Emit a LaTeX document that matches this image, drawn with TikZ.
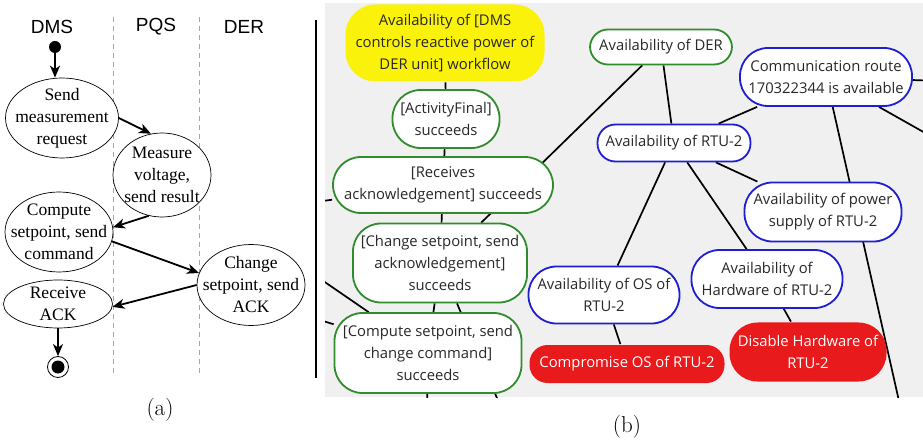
\documentclass[tikz,border=0pt]{standalone}
\usepackage{fontspec}
\newfontfamily\serfont{Liberation Serif}
\newfontfamily\lanefont{Liberation Sans}
\newfontfamily\uifont{Open Sans}
\usetikzlibrary{positioning,arrows.meta,shapes.geometric,backgrounds}
\definecolor{bggray}{RGB}{240,240,240}
\definecolor{okgreen}{RGB}{48,140,44}
\definecolor{okblue}{RGB}{30,30,210}
\definecolor{badred}{RGB}{232,26,28}
\definecolor{goalyellow}{RGB}{250,242,10}
\definecolor{txtgray}{RGB}{40,40,40}

\begin{document}
\begin{tikzpicture}[x=1pt, y=-1pt,
        >={Stealth[length=12pt,width=10pt,inset=3.5pt]},
        lane/.style = {font=\lanefont\fontsize{19}{22}\selectfont},
        act/.style = {ellipse, draw, line width=0.7pt, fill=white, inner sep=0pt,
                label={[align=center, font=\serfont\fontsize{17.5}{22}\selectfont]center:{#1}}},
        flow/.style = {->, line width=1.8pt},
        swim/.style = {dashed, gray!70, line width=0.8pt, dash pattern=on 5pt off 4pt},
        caption/.style = {font=\fontsize{23}{27}\selectfont},
        box/.style = {rectangle, line width=1.8pt, fill=white, align=center, inner sep=2pt,
                text=txtgray, font=\uifont\fontsize{14.8}{22}\selectfont},
        gbox/.style = {box, draw=okgreen},
        bbox/.style = {box, draw=okblue},
        rbox/.style = {box, fill=badred, text=white, draw=none},
        one/.style = {minimum height=36pt, rounded corners=18pt},
        two/.style = {minimum height=58pt, rounded corners=28pt},
        three/.style = {minimum height=79pt, rounded corners=28pt},
        edge/.style = {line width=1.7pt},
    ]
    \useasboundingbox (0,0) rectangle (923,443);

    % (a) activity diagram
    \node[lane] (dms) at (52,27) {DMS};
    \node[lane] (pqs) at (156,27) {PQS};
    \node[lane] (der-lane) at (244,27) {DER};

    \node[circle, fill, inner sep=0pt, minimum size=12pt] (init) at (55,47) {};
    \node[act={Send\\measurement\\request}, minimum width=113pt, minimum height=80pt] (send) at (62,118) {};
    \node[act={Measure\\voltage,\\send result}, minimum width=98pt, minimum height=84pt] (meas) at (162,175) {};
    \node[act={Compute\\setpoint, send\\command}, minimum width=108pt, minimum height=80pt] (compute) at (59,232) {};
    \node[act={Change\\setpoint, send\\ACK}, minimum width=108pt, minimum height=81pt] (change) at (251,285) {};
    \node[act={Receive\\ACK}, minimum width=109pt, minimum height=48pt] (ack) at (58,304) {};
    \node[circle, draw, line width=0.8pt, inner sep=0pt, minimum size=21pt] (fin) at (58,367) {};
    \node[circle, fill, inner sep=0pt, minimum size=13pt] (fin-dot) at (fin) {};

    \draw[flow] (init) -- (init |- send.north);
    \draw[flow] (send.east) -- (meas.105);
    \draw[flow] (meas.252) -- (compute.5);
    \draw[flow] (compute.350) -- (change.167);
    \draw[flow] (change.west) -- (ack.357);
    \draw[flow] (ack) -- (fin);

    \coordinate (sep-top) at (316,20);
    \coordinate (sep-bot) at (316,378);
    \draw[line width=1.1pt] (sep-top) -- (sep-bot);

    \node[caption] (cap-a) at (160,410) {(a)};

    % (b) attack tree
    \node[box, fill=goalyellow, draw=none, three, rounded corners=30pt, minimum width=199pt, minimum height=77pt]
        (goal) at (445,43) {Availability of [DMS\\controls reactive power of\\DER unit] workflow};
    \node[gbox, two, minimum width=107pt] (actfin) at (446,119) {[ActivityFinal]\\succeeds};
    \node[gbox, two, minimum width=220pt, minimum height=56pt] (recv) at (443,185) {[Receives\\acknowledgement] succeeds};
    \node[gbox, three, minimum width=174pt] (chg) at (440,263) {[Change setpoint, send\\acknowledgement]\\succeeds};
    \node[gbox, three, minimum width=187pt, minimum height=80pt] (comp) at (428,353) {[Compute setpoint, send\\change command]\\succeeds};
    \node[gbox, one, minimum width=142pt, minimum height=35pt] (der) at (661,47) {Availability of DER};
    \node[bbox, two, minimum width=172pt] (comm) at (826,77) {Communication route\\170322344 is available};
    \node[bbox, one, minimum width=153pt, minimum height=37pt] (rtu) at (674,143) {Availability of RTU-2};
    \node[bbox, two, minimum width=157pt, minimum height=59pt] (pwr) at (823,212) {Availability of power\\supply of RTU-2};
    \node[bbox, two, minimum width=151pt, minimum height=57pt] (os) at (604,295) {Availability of OS of\\RTU-2};
    \node[bbox, two, minimum width=151pt] (hw) at (767,279) {Availability of\\Hardware of RTU-2};
    \node[rbox, one, minimum width=195pt, minimum height=38pt] (cos) at (627,364) {Compromise OS of RTU-2};
    \node[rbox, two, minimum width=157pt, minimum height=59pt] (dhw) at (808,352) {Disable Hardware of\\RTU-2};

    \node[caption] (cap-b) at (627,427) {(b)};

    % free ends of edges that leave the view
    \coordinate (off-r) at (300,204);
    \coordinate (off-l1) at (300,265);
    \coordinate (off-l2) at (300,314);
    \coordinate (off-b1) at (427,410);
    \coordinate (off-b2) at (502,410);
    \coordinate (off-b3) at (901,410);
    \coordinate (off-e1) at (940,81);
    \coordinate (off-e2) at (950,147);

    \begin{pgfonlayer}{background}
        \foreach \x in {113,199}
            \draw[swim] (\x,17) -- (\x,375);
        \fill[bggray] (325,3) rectangle (923,397);
        \begin{scope}
            \clip (325,3) rectangle (923,397);
            \foreach \a/\b in {goal/actfin, actfin/recv, recv/chg, chg/comp, der/chg, der/rtu,
                    comm/rtu, rtu/pwr, rtu/os, rtu/hw, os/cos, hw/dhw,
                    recv/off-r, comp/off-l1, comp/off-l2, comp/off-b1, chg/off-b2,
                    comm/off-b3, comm/off-e1, comm/off-e2}
                \draw[edge] (\a) -- (\b);
        \end{scope}
    \end{pgfonlayer}
\end{tikzpicture}
\end{document}
